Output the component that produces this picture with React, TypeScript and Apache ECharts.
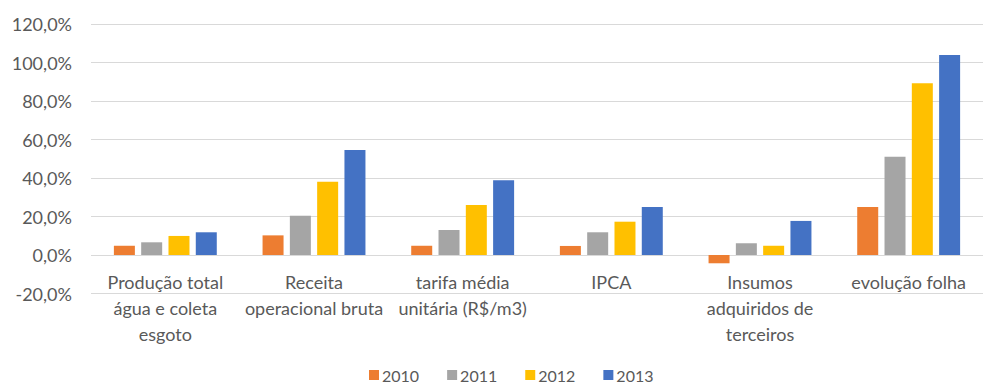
import React, { useEffect, useRef } from "react";
import * as echarts from "echarts";

const categories = [
  "Produção total\nágua e coleta\nesgoto",
  "Receita\noperacional bruta",
  "tarifa média\nunitária (R$/m3)",
  "IPCA",
  "Insumos\nadquiridos de\nterceiros",
  "evolução folha",
];
const seriesNames = ["2010", "2011", "2012", "2013"];
const values2010 = [4.8, 10.2, 4.8, 4.7, -4.3, 24.9];
const values2011 = [6.6, 20.4, 13.0, 11.8, 6.1, 51.1];
const values2012 = [9.9, 38.1, 26.0, 17.3, 4.8, 89.2];
const values2013 = [11.8, 54.5, 38.8, 24.9, 17.7, 103.9];
const colors = ["#ED7D31", "#A5A5A5", "#FFC000", "#4472C4"];

export default function App() {
  const ref = useRef<HTMLDivElement>(null);
  useEffect(() => {
    if (!ref.current) return;
    const chart = echarts.init(ref.current, null, { renderer: "svg" });
    const data = [values2010, values2011, values2012, values2013];
    const font = "Lato, 'Open Sans', sans-serif";
    chart.setOption({
      animation: false,
      backgroundColor: "#ffffff",
      grid: { left: 91, right: -13, top: 24, bottom: 89.5, containLabel: false },
      legend: {
        data: seriesNames,
        left: 364,
        top: 362,
        icon: "rect",
        itemWidth: 10,
        itemHeight: 10,
        itemGap: 28,
        textStyle: { fontFamily: font, fontSize: 16, color: "#595959", padding: [0, 0, 0, -2] },
      },
      xAxis: {
        type: "category",
        data: categories,
        axisLine: { show: false },
        axisTick: { show: false },
        axisLabel: {
          interval: 0,
          margin: -25,
          fontFamily: font,
          fontSize: 18,
          lineHeight: 26,
          color: "#595959",
        },
      },
      yAxis: {
        type: "value",
        min: -20,
        max: 120,
        interval: 20,
        axisLine: { show: false },
        axisTick: { show: false },
        splitLine: { lineStyle: { color: "#d9d9d9", width: 1 } },
        axisLabel: {
          margin: 19,
          fontFamily: font,
          fontSize: 18,
          color: "#595959",
          formatter: (v: number) => v.toFixed(1).replace(".", ",") + "%",
        },
      },
      series: seriesNames.map((name, i) => ({
        name,
        type: "bar",
        data: data[i],
        barWidth: 21,
        barGap: "30%",
        itemStyle: { color: colors[i] },
      })),
    });
    return () => chart.dispose();
  }, []);
  return (
    <div
      ref={ref}
      style={{ position: "fixed", left: 0, top: 0, width: 983, height: 383 }}
    />
  );
}
